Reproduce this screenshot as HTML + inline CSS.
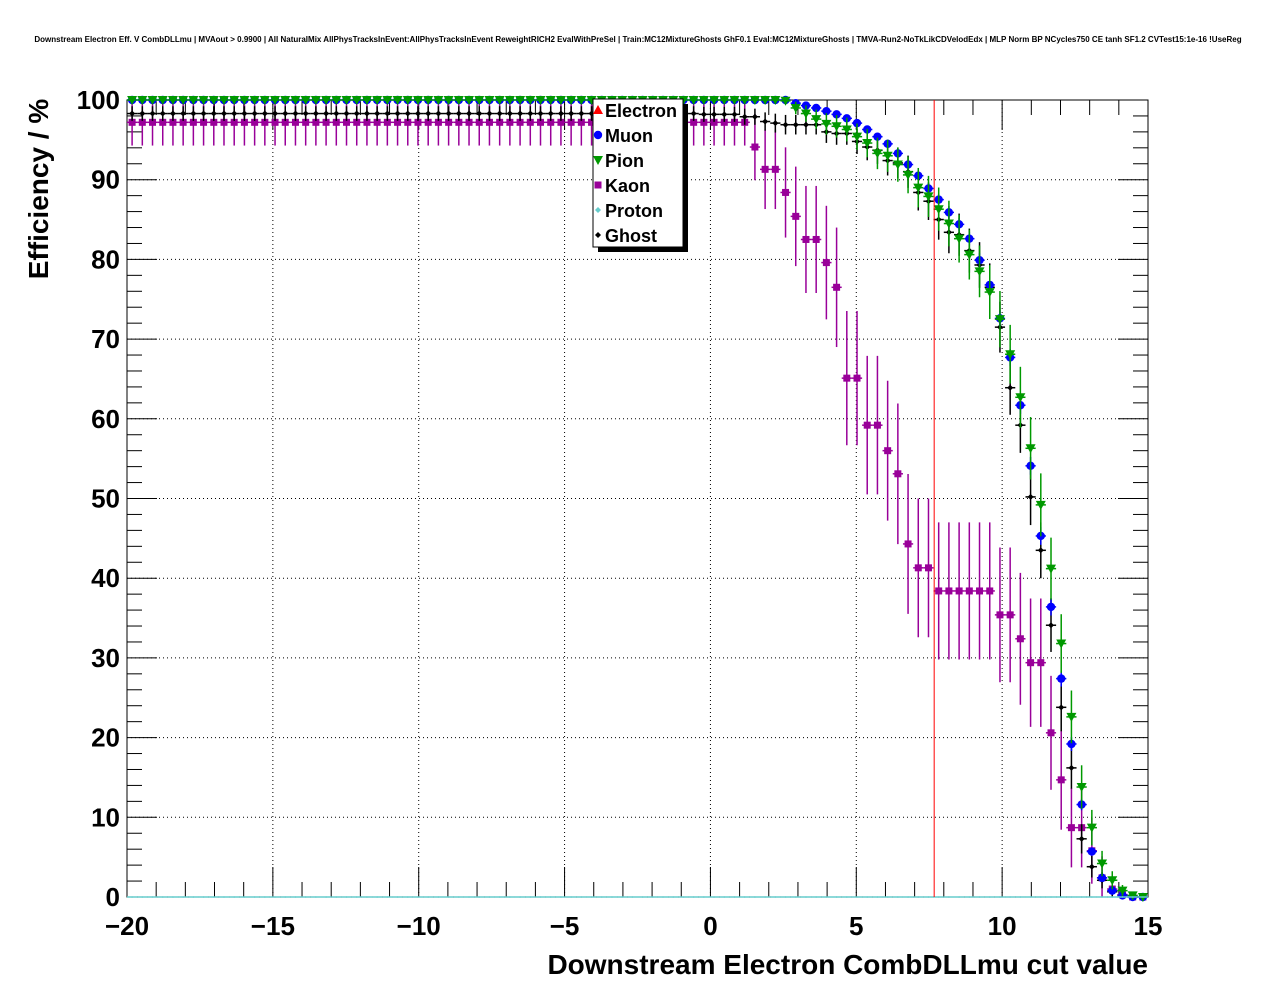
<!DOCTYPE html>
<html><head><meta charset="utf-8"><style>
body{margin:0;background:#fff;}
svg{display:block;font-family:"Liberation Sans",sans-serif;}
</style></head><body>
<svg id="c" width="1276" height="996" viewBox="0 0 1276 996">
<rect width="1276" height="996" fill="#fff"/>
<text x="638" y="42" text-anchor="middle" font-size="8" font-weight="bold">Downstream Electron Eff. V CombDLLmu | MVAout &gt; 0.9900 | All NaturalMix AllPhysTracksInEvent:AllPhysTracksInEvent ReweightRICH2 EvalWithPreSel | Train:MC12MixtureGhosts GhF0.1 Eval:MC12MixtureGhosts | TMVA-Run2-NoTkLikCDVelodEdx | MLP Norm BP NCycles750 CE tanh SF1.2 CVTest15:1e-16 !UseReg</text>
<g id="grid"></g>
<g id="axes"></g>
<g id="marks"></g>
<text x="1148" y="974" text-anchor="end" font-size="28" font-weight="bold">Downstream Electron CombDLLmu cut value</text>
<text transform="translate(48,189) rotate(-90)" text-anchor="middle" font-size="28" font-weight="bold">Efficiency / %</text>
</svg>
<script>
const NS="http://www.w3.org/2000/svg";
const xMin=-20, xMax=15, nBins=100;
const xTicks=[-20,-15,-10,-5,0,5,10,15];
const xTickLabels=["\u221220","\u221215","\u221210","\u22125","0","5","10","15"];
const yTicks=[0,10,20,30,40,50,60,70,80,90,100];
const cutValue=7.67;
function rep(v,n){return Array(n).fill(v);}
const muonEff=rep(100,65).concat([99.6,99.3,99.0,98.6,98.2,97.7,97.1,96.3,95.4,94.5,93.3,91.9,90.5,88.9,87.5,85.9,84.4,82.6,79.9,76.8,72.6,67.7,61.7,54.1,45.3,36.4,27.4,19.2,11.6,5.7,2.4,0.8,0.2,0,0]);
const pionEff=rep(100,64).concat([99.9,99.0,98.3,97.6,97.0,96.7,96.3,95.4,94.6,93.3,93.0,91.9,90.6,89.0,87.9,86.3,84.5,82.6,80.6,78.5,75.9,72.5,68.1,62.7,56.3,49.2,41.2,31.8,22.6,13.8,8.7,4.2,2.1,0.8,0.2,0]);
const kaonEff=rep(97.2,61).concat([94.1,91.3,91.3,88.4,85.4,82.5,82.5,79.6,76.5,65.1,65.1,59.2,59.2,56.0,53.1,44.3,41.3,41.3,38.4,38.4,38.4,38.4,38.4,38.4,35.4,35.4,32.4,29.4,29.4,20.6,14.7,8.7,8.7,5.8,2.4,1.0,0.3,0,0]);
const ghostEff=rep(98.3,56).concat([98.2,98.2,98.2,98.2,97.9,97.9,97.3,97.1,96.9,96.9,96.9,96.9,96.0,95.8,95.8,94.8,94.1,93.7,92.4,92.1,91.0,88.4,87.3,85.0,83.4,83.1,81.1,79.3,76.5,71.5,63.9,59.2,50.2,43.5,34.1,23.8,16.2,7.3,3.8,2.1,0.65,0.2,0,0]);
const protonEff=rep(0,100);
const nMuon=2000,nPion=160,nKaon=32,nGhost=200;

const L=127,R=1148,T=100,B=897;
const X=v=>L+(v-xMin)/(xMax-xMin)*(R-L);
const Y=v=>B-v/100*(B-T);
const bw=(xMax-xMin)/nBins;
function el(tag,attrs,parent){const e=document.createElementNS(NS,tag);for(const k in attrs)e.setAttribute(k,attrs[k]);parent.appendChild(e);return e;}
const grid=document.getElementById('grid'),axes=document.getElementById('axes'),marks=document.getElementById('marks');
xTicks.forEach(t=>{if(t>xMin&&t<xMax){const g=el('line',{x1:X(t),x2:X(t),y1:T,y2:B,stroke:'#000','stroke-width':1,'stroke-dasharray':'1,3'},grid);

}});
yTicks.forEach(t=>{if(t>0&&t<100){const g=el('line',{x1:L,x2:R,y1:Y(t),y2:Y(t),stroke:'#000','stroke-width':1,'stroke-dasharray':'1,3'},grid);

}});
const fr=el('rect',{x:L,y:T,width:R-L,height:B-T,fill:'none',stroke:'#000','stroke-width':1},axes);


for(let v=xMin;v<=xMax;v+=1){const maj=(v%5===0);const len=maj?30:15;
el('line',{x1:X(v),x2:X(v),y1:B,y2:B-len,stroke:'#000'},axes);
el('line',{x1:X(v),x2:X(v),y1:T,y2:T+len,stroke:'#000'},axes);}
xTicks.forEach((t,i)=>{const tx=el('text',{x:X(t),y:935,'text-anchor':'middle','font-size':26,'font-weight':'bold'},axes);tx.textContent=xTickLabels[i];

});
for(let v=0;v<=100;v+=2){const maj=(v%10===0);const len=maj?30:15;
el('line',{x1:L,x2:L+len,y1:Y(v),y2:Y(v),stroke:'#000'},axes);
el('line',{x1:R,x2:R-len,y1:Y(v),y2:Y(v),stroke:'#000'},axes);}
yTicks.forEach(t=>{const tx=el('text',{x:120,y:Y(t)+9,'text-anchor':'end','font-size':26,'font-weight':'bold'},axes);tx.textContent=String(t);

});

function marker(shape,cx,cy,color,g){
 if(shape==='circle')return el('circle',{cx:cx,cy:cy,r:4.2,fill:color},g);
 if(shape==='tridown')return el('polygon',{points:`${cx-5},${cy-4} ${cx+5},${cy-4} ${cx},${cy+5}`,fill:color},g);
 if(shape==='triup')return el('polygon',{points:`${cx-5},${cy+4} ${cx+5},${cy+4} ${cx},${cy-5}`,fill:color},g);
 if(shape==='square')return el('rect',{x:cx-3.5,y:cy-3.5,width:7,height:7,fill:color},g);
 if(shape==='diamond')return el('polygon',{points:`${cx-3},${cy} ${cx},${cy-3} ${cx+3},${cy} ${cx},${cy+3}`,fill:color},g);
 if(shape==='none')return el('circle',{cx:cx,cy:cy,r:0.8,fill:color},g);
}
function series(name,vals,N,color,shape){
 const g=el('g',{},marks);
 
 
 vals.forEach((v,i)=>{
  const xc=xMin+bw*(i+0.5);const cx=X(xc),cy=Y(v);
  const p=v/100;const err=N?Math.sqrt(Math.max(p*(1-p),0)/N)*100:0;
  el('line',{x1:X(xc-bw/2),x2:X(xc+bw/2),y1:cy,y2:cy,stroke:color,'stroke-width':1.5},g);
  if(err>0.3)el('line',{x1:cx,x2:cx,y1:Y(Math.min(100,v+err)),y2:Y(Math.max(0,v-err)),stroke:color,'stroke-width':1.5},g);
  const m=marker(shape,cx,cy,color,g);
  
  
 });
}
series('kaon',kaonEff,nKaon,'#990099','square');
series('ghost',ghostEff,nGhost,'#000','diamond');
series('muon',muonEff,nMuon,'#0000ff','circle');
series('pion',pionEff,nPion,'#009900','tridown');
series('proton',protonEff,0,'#66cccc','none');
const cl=el('line',{x1:X(cutValue),x2:X(cutValue),y1:T,y2:B,stroke:'#ff0000','stroke-width':1},marks);


const lg=el('g',{},marks);


el('rect',{x:598,y:104,width:90,height:148,fill:'#000'},lg);
el('rect',{x:593,y:99,width:90,height:148,fill:'#fff',stroke:'#000'},lg);
const legNames=['Electron','Muon','Pion','Kaon','Proton','Ghost'];
const legCols=['#ff0000','#0000ff','#009900','#990099','#66cccc','#000'];
const legShapes=['triup','circle','tridown','square','diamond','diamond'];
legNames.forEach((n,i)=>{const cy=110+i*25;
 const m=marker(legShapes[i],598,cy,legCols[i],lg);
 
 
 const t=el('text',{x:605,y:cy+7,'font-size':18,'font-weight':'bold'},lg);t.textContent=n;
 
 
});
</script>
</body></html>
